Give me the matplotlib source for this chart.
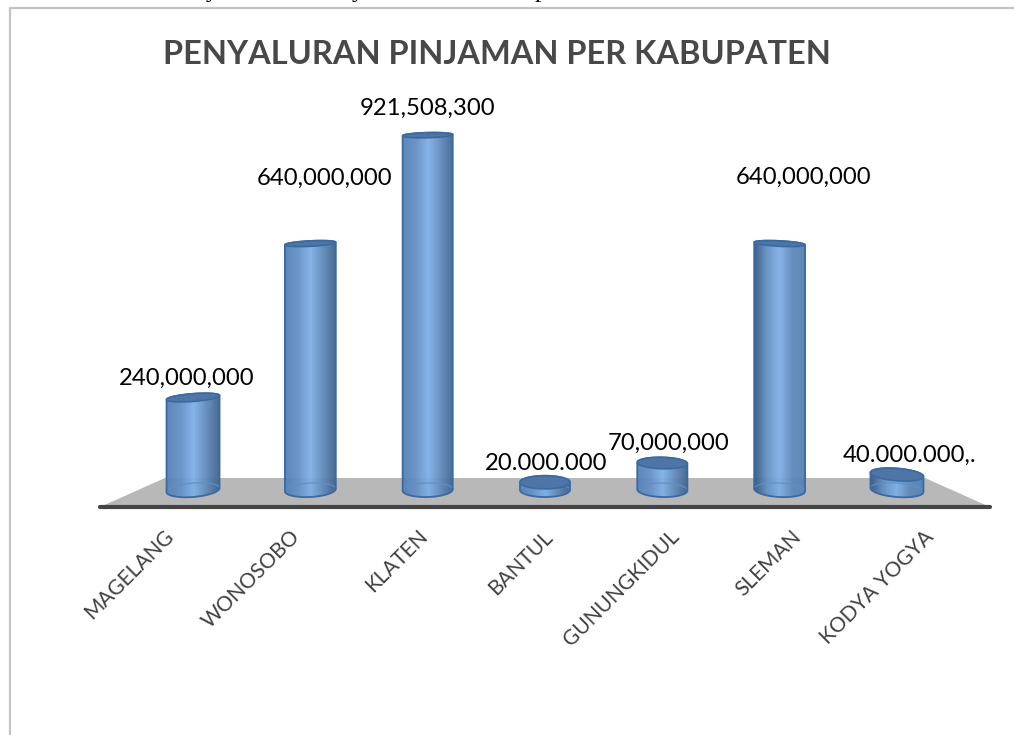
import numpy as np
import matplotlib
matplotlib.use("Agg")
import matplotlib.pyplot as plt
from matplotlib.colors import LinearSegmentedColormap
from matplotlib.patches import Polygon, PathPatch
from matplotlib.path import Path
from matplotlib.transforms import ScaledTranslation

categories = ["MAGELANG", "WONOSOBO", "KLATEN", "BANTUL", "GUNUNGKIDUL", "SLEMAN", "KODYA YOGYA"]
values = [240000000, 640000000, 921508300, 20000000, 70000000, 640000000, 40000000]
value_labels = ["240,000,000", "640,000,000", "921,508,300", "20.000.000", "70,000,000", "640,000,000", "40.000.000,."]
title = "PENYALURAN PINJAMAN PER KABUPATEN"

W, H = 1014, 735
plt.rcParams["font.family"] = ["Lato", "DejaVu Sans"]
fig = plt.figure(figsize=(W / 100, H / 100), dpi=100, facecolor="white")

# axes spans the plotted area; the bottom spine is the dark base line
L, R, T, B = 100, 990, 100, 507
ax = fig.add_axes([L / W, 1 - B / H, (R - L) / W, (B - T) / H])
PX_X = 117.33            # pixels per category
PX_Y = 0.385e-6          # pixels per unit of value
BASE = 490               # pixel row of value 0
ax.set_facecolor("none")
for s in ("top", "left", "right"):
    ax.spines[s].set_visible(False)
ax.spines["bottom"].set_color("#444444")
ax.spines["bottom"].set_linewidth(3)
ax.spines["bottom"].set_capstyle("round")
ax.set_yticks([])

# floor
ax.add_patch(Polygon([(0, 0), (65 / 890, 29 / 407), (825 / 890, 29 / 407), (1, 0)],
                     closed=True, transform=ax.transAxes, fc="#b8b8b8", ec="none", zorder=1))


def cyl_path(x0, top, rx, ry_top, ry_base, tilt):
    """Outline of a cylinder: x0 in categories, top in values; rx, ry, in pixels."""
    th = np.linspace(0, np.pi, 60)
    xs_t = rx * np.cos(th)
    ys_t = top * PX_Y + ry_top * np.sin(th) + tilt * xs_t
    xs_b = rx * np.cos(th + np.pi)
    ys_b = ry_base * np.sin(th + np.pi) + tilt * xs_b
    xs = np.r_[xs_t, xs_b, xs_t[0]]
    ys = np.r_[ys_t, ys_b, ys_t[0]]
    return x0 + xs / PX_X, ys / PX_Y


def ellipse_xy(x0, level, rx, ry, tilt):
    th = np.linspace(0, 2 * np.pi, 120)
    xs = rx * np.cos(th)
    ys = level * PX_Y + ry * np.sin(th) + tilt * xs
    return x0 + xs / PX_X, ys / PX_Y


x_pos = np.arange(len(categories))
for i, v in enumerate(values):
    shade = (i - 3) / 3
    rx = 25 + 1.5 * abs(shade) ** 3
    tilt = -(i - 3) * 0.025
    ry_base = 7.0
    ry_top = 2.5 + 4.5 * np.exp(-v / 2e8)
    px, py = cyl_path(x_pos[i], v, rx, ry_top, ry_base, tilt)
    left = "#34577f" if shade > 0.4 else "#5482b6"
    right = "#3f628c" if shade < 0.4 else "#5482b6"
    cmap = LinearSegmentedColormap.from_list("c", [left, "#6490c4", "#7fb0e8", "#6089ba", right])
    grad = np.linspace(0, 1, 256).reshape(1, -1)
    im = ax.imshow(grad, cmap=cmap, aspect="auto", zorder=2, alpha=0.95,
                   extent=[px.min(), px.max(), py.min(), py.max()])
    outline = PathPatch(Path(np.c_[px, py]), fc="none", ec="#3a6aa2", lw=1.3, zorder=4)
    ax.add_patch(outline)
    im.set_clip_path(outline)
    # back of base
    ex, ey = ellipse_xy(x_pos[i], 0, rx, ry_base, tilt)
    ax.plot(ex[:60], ey[:60], color="#5f8fc6", lw=0.8, zorder=3)
    # top cap
    tx, ty = ellipse_xy(x_pos[i], v, rx, ry_top, tilt)
    ax.fill(tx, ty, fc="#4f75a6", ec="#3a6aa2", lw=1.2, zorder=5)

ax.set_xlim(-0.793, 6.793)
ax.set_ylim(-(B - BASE) / PX_Y, (BASE - T) / PX_Y)

# tick labels, nudged in pixels because the reference fans them out
tick_dx = [-30, -21, -10, -2, 7, 11, 27]
ax.set_xticks(x_pos, categories, rotation=45, ha="right", va="top",
              rotation_mode="anchor", fontsize=15, color="#404040")
ax.tick_params(axis="x", length=0, pad=14)
for lab, d in zip(ax.get_xticklabels(), tick_dx):
    lab.set_transform(lab.get_transform() + ScaledTranslation(d / 100, 0, fig.dpi_scale_trans))

# value labels, offset in pixels from each bar's x and top
label_dx = [-6, 14, 0, 1, 6, 24, 13]
label_y = [378, 178, 108, 463, 443, 177, 455]
for i, s in enumerate(value_labels):
    ax.text(x_pos[i] + label_dx[i] / PX_X, (BASE - label_y[i]) / PX_Y, s,
            ha="center", va="center", fontsize=17.2, color="black", zorder=6)

# title
fig.text(497 / W, 1 - 55 / H, title, ha="center", va="center", fontsize=23.4,
         fontweight="bold", color="#484848")

# frame of the pasted chart
fig.add_artist(plt.Line2D([10 / W, 10 / W, 1], [0, 1 - 8 / H, 1 - 8 / H],
                          color="#c4c4c4", lw=1.6, transform=fig.transFigure))

# descenders of the cropped line of text above
for cx, ch in [(212, "y"), (358, "y"), (541, "p")]:
    fig.text(cx / W, 1 + 3 / H, ch, ha="center", va="baseline", fontsize=18,
             family="Liberation Serif", color="black")

fig.savefig("out.png", dpi=100)
